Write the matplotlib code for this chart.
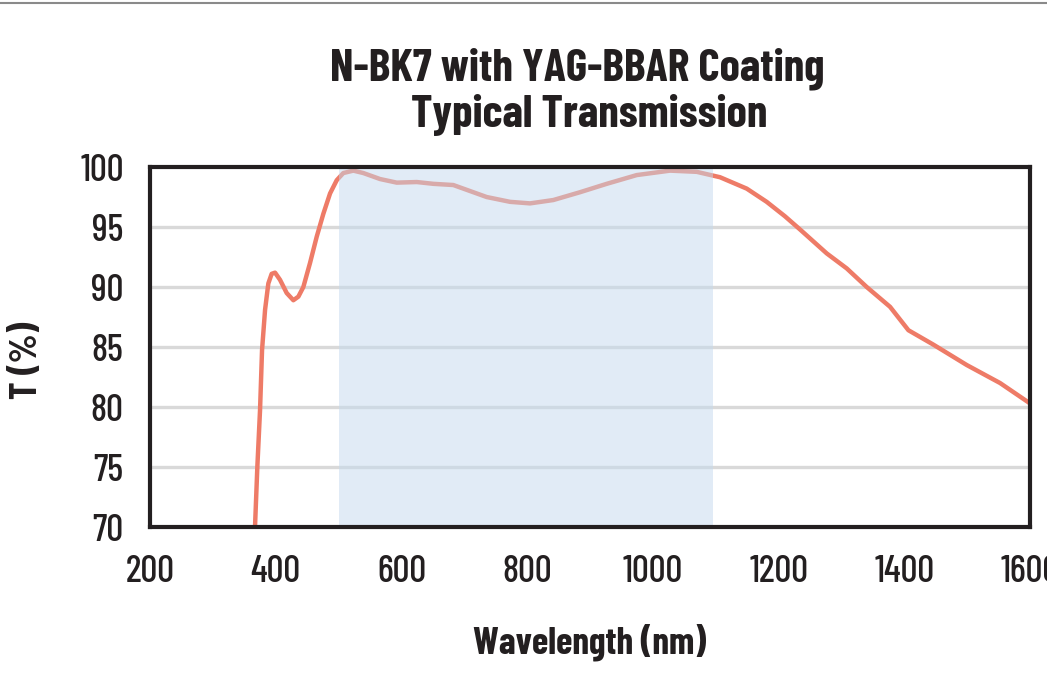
import matplotlib
matplotlib.use("Agg")
import matplotlib.pyplot as plt
from matplotlib.lines import Line2D

# Transmission curve (nm, %)
wavelength = [367, 370.7, 375, 378.2, 383, 388.2, 393.5, 398.9, 406.8, 417.4,
              428, 436, 443.9, 454.5, 465.2, 475.7, 486.4, 497, 507.5, 523.4,
              539.3, 565.9, 592.5, 624.3, 650.8, 682.5, 735.6, 772.7, 804.5,
              841.6, 884, 926.5, 974.3, 1027.3, 1069.7, 1106.8, 1149.3, 1181,
              1210, 1234, 1276.6, 1308.4, 1340.2, 1377.3, 1406.5, 1446.2,
              1499.3, 1552.3, 1600]
transmission = [70.0, 75.0, 79.75, 84.75, 88.1, 90.3, 91.1, 91.2, 90.6, 89.5,
                88.9, 89.2, 90.0, 92.0, 94.2, 96.1, 97.8, 98.9, 99.5, 99.7,
                99.5, 99.0, 98.7, 98.75, 98.6, 98.5, 97.5, 97.1, 96.97,
                97.25, 97.9, 98.6, 99.33, 99.7, 99.6, 99.15, 98.2, 97.1,
                95.9, 94.8, 92.8, 91.55, 90.0, 88.35, 86.4, 85.2,
                83.5, 82.0, 80.3]

band = (500, 1095)  # coating design band
x_ticks = [200, 400, 600, 800, 1000, 1200, 1400, 1600]
y_ticks = [70, 75, 80, 85, 90, 95, 100]
grid_vals = [75, 80, 85, 90, 95]

plt.rcParams['font.family'] = ['Barlow Condensed', 'DejaVu Sans']
ink = '#231f20'

fig = plt.figure(figsize=(10.47, 6.84), dpi=100)
ax = fig.add_axes([0.1433, 0.2295, 0.8405, 0.5263])

for g in grid_vals:
    ax.axhline(g, color='#d9d9d9', lw=2.4, zorder=1)

ax.plot(wavelength, transmission, color='#ee7b67', lw=3.2, zorder=2,
        solid_capstyle='butt', solid_joinstyle='round')
ax.axvspan(band[0], band[1], color='#c4d9ee', alpha=0.5, lw=0, zorder=3)

ax.set_xlim(200, 1600)
ax.set_ylim(70, 100)
ax.set_xticks(x_ticks)
ax.set_yticks(y_ticks)
ax.tick_params(length=0, labelsize=27, colors=ink)
ax.tick_params(axis='y', pad=19)
ax.tick_params(axis='x', pad=20)
for lbl in ax.get_xticklabels() + ax.get_yticklabels():
    lbl.set_fontweight(500)

for s in ax.spines.values():
    s.set_linewidth(3.0)
    s.set_color(ink)
    s.set_zorder(5)

ax.set_xlabel('Wavelength (nm)', fontsize=27, fontweight='bold', color=ink)
ax.xaxis.set_label_coords(0.499, -0.32)
ax.xaxis.label.set_va('center')
ax.set_ylabel('T (%)', fontsize=27, fontweight='bold', color=ink)
ax.yaxis.set_label_coords(-0.14, 0.464)
ax.yaxis.label.set_va('center')

fig.text(577 / 1047, 1 - 80 / 684, 'N-BK7 with YAG-BBAR Coating',
         ha='center', va='baseline', fontsize=33, fontweight='bold', color=ink)
fig.text(589 / 1047, 1 - 127 / 684, 'Typical Transmission',
         ha='center', va='baseline', fontsize=33, fontweight='bold', color=ink)

fig.add_artist(Line2D([0, 1], [0.995, 0.995], color='#8a8a8a', lw=1.5,
                      transform=fig.transFigure))

fig.savefig('out.png', dpi=100)
